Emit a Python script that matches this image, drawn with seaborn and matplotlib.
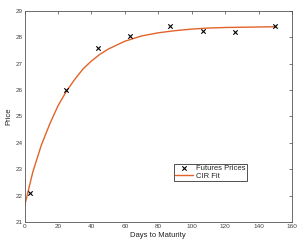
import matplotlib
matplotlib.use("Agg")
import matplotlib.pyplot as plt
import seaborn as sns
import pandas as pd

days = [3, 25, 44, 63, 87, 107, 126, 150]
prices = [22.1, 26.0, 27.6, 28.05, 28.42, 28.25, 28.2, 28.42]

fit_days = [0, 5, 10, 15, 20, 25, 30, 35, 40, 45, 50, 60, 70, 80, 90, 100, 110, 120, 130, 140, 150]
fit_vals = [21.6, 22.9, 23.9, 24.7, 25.4, 25.95, 26.4, 26.8, 27.1, 27.35, 27.55, 27.85, 28.05,
            28.17, 28.25, 28.31, 28.35, 28.37, 28.38, 28.39, 28.4]

sns.set_theme(style="white")
plt.rcParams['font.family'] = ['Liberation Sans', 'DejaVu Sans']

fig = plt.figure(figsize=(2.99, 2.42), dpi=100)
ax = fig.add_axes([0.082, 0.083, 0.895, 0.872])

pts = pd.DataFrame({"d": days, "p": prices})
fit = pd.DataFrame({"d": fit_days, "p": fit_vals})

sns.scatterplot(data=pts, x="d", y="p", marker="x", color="black", s=10, linewidth=0.8,
                ax=ax, label="Futures Prices", zorder=3)
sns.lineplot(data=fit, x="d", y="p", color="#E2632A", linewidth=1.0, ax=ax, label="CIR Fit")

ax.set_xlim(0, 160)
ax.set_ylim(21, 29)
ax.set_xticks(range(0, 161, 20))
ax.set_yticks(range(21, 30))
ax.tick_params(direction="in", length=2.5, width=0.5, labelsize=4.6, pad=1.5,
               top=True, right=True, colors="#444444")
for s in ax.spines.values():
    s.set_linewidth(0.6)
    s.set_color("#555555")
ax.set_xlabel("Days to Maturity", fontsize=5.5, labelpad=2, color="#222222")
ax.set_ylabel("Price", fontsize=5.5, labelpad=2, color="#222222")

leg = ax.legend(loc="upper left", bbox_to_anchor=(0.557, 0.275), fontsize=5.5, frameon=True,
                fancybox=False, edgecolor="black", borderpad=0.15, labelspacing=0.0,
                handlelength=2.4, handletextpad=0.4, borderaxespad=0)
leg.get_frame().set_linewidth(0.6)

fig.savefig("out.png", dpi=100)
